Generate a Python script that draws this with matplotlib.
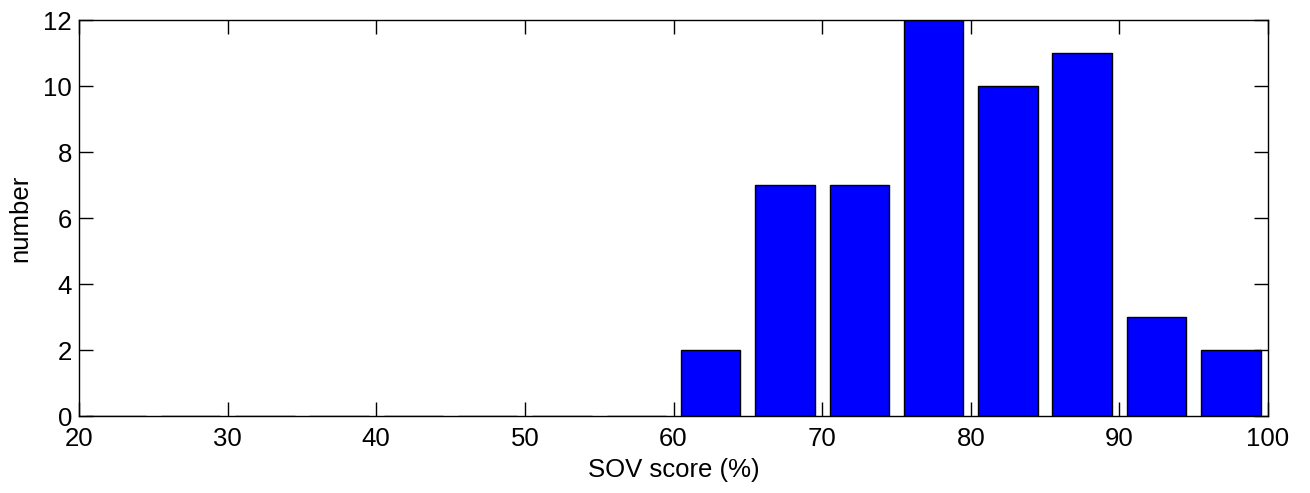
import numpy as np
import matplotlib
matplotlib.use("Agg")
import matplotlib.pyplot as plt

plt.rcParams['font.family'] = ['Liberation Sans', 'DejaVu Sans']

# histogram bin centres and counts
centers = [22.5, 27.5, 32.5, 37.5, 42.5, 47.5, 52.5, 57.5,
           62.5, 67.5, 72.5, 77.5, 82.5, 87.5, 92.5, 97.5]
counts = [0, 0, 0, 0, 0, 0, 0, 0, 2, 7, 7, 12, 10, 11, 3, 2]
xticks = [20, 30, 40, 50, 60, 70, 80, 90, 100]
yticks = [0, 2, 4, 6, 8, 10, 12]

fig = plt.figure(figsize=(13.1, 4.93), dpi=100)
ax = fig.add_axes([79/1310, 1-416/493, (1268-79)/1310, (416-20)/493])

ax.bar(centers, counts, width=4, color='#0000ff', edgecolor='black', linewidth=1.0)

ax.set_xlim(20, 100)
ax.set_ylim(0, 12)
ax.set_xticks(xticks)
ax.set_yticks(yticks)
ax.tick_params(direction='in', top=True, right=True, length=10, width=1, labelsize=18.5)
ax.tick_params(axis='x', pad=8)
ax.tick_params(axis='y', pad=5)
for s in ax.spines.values():
    s.set_linewidth(1.0)
ax.set_xlabel('SOV score (%)', fontsize=18.5, labelpad=5)
ax.set_ylabel('number', fontsize=18.5, labelpad=8)

fig.savefig('out.png', dpi=100)
